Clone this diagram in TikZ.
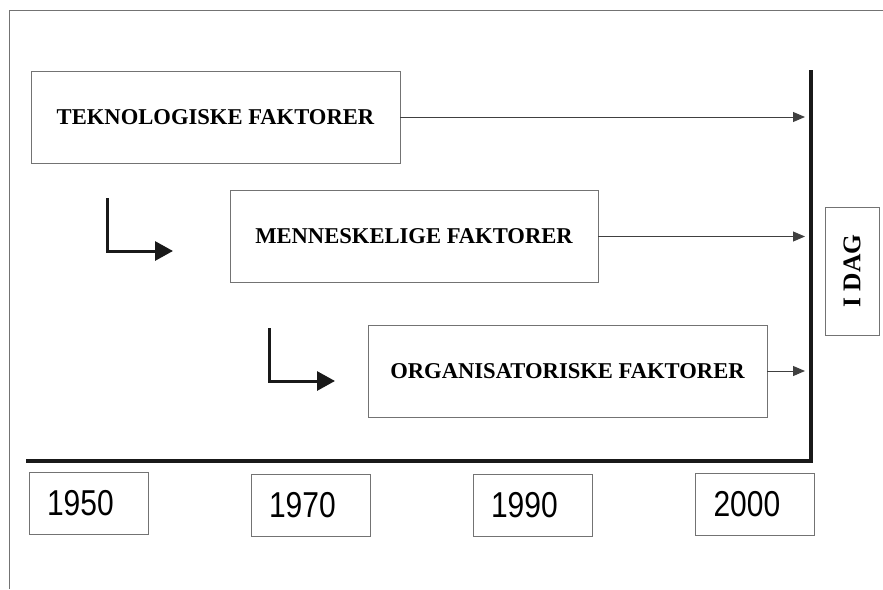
\documentclass[tikz,border=0pt]{standalone}
\usepackage{fontspec}
\setmainfont{Liberation Serif}
\newfontfamily\aarfont{Liberation Sans}
\usepackage{graphicx}
\usetikzlibrary{arrows.meta}

\newcommand{\aar}[1]{\scalebox{1}[1.2]{#1}}

\begin{document}
\begin{tikzpicture}[x=1, y=-1,
    faktor/.style={draw=black!55, line width=0.9, inner sep=0, minimum height=92,
      font=\fontsize{22.6}{25}\selectfont\bfseries},
    aarboks/.style={draw=black!55, line width=0.9, inner ysep=0, inner xsep=18,
      text width=83, align=left, minimum height=62, font=\aarfont\fontsize{30}{32}\selectfont},
    pil/.style={-{Triangle[length=12, width=10]}, line width=1, black!75},
    knekkpil/.style={-{Triangle[length=18, width=19]}, line width=3, black!90},
    tidslinje/.style={line width=3.5, black!90}]
            \useasboundingbox (0,0) rectangle (883,589);
            % Ramme
            \draw[black!55, line width=0.9] (9,589) -- (9,10) -- (883,10);
            % Tidslinje
            \coordinate (start) at (26,461);
            \coordinate (hjorne) at (811,461);
            \coordinate (topp) at (811,70);
            \coordinate (slutt) at (805,0);
            \draw[tidslinje] (start) -- (hjorne) -- (topp);
            % Faktorer
            \node[faktor, minimum width=369] (tek) at (215.5,117) {TEKNOLOGISKE FAKTORER};
            \node[faktor, minimum width=368] (men) at (414,236.5) {MENNESKELIGE FAKTORER};
            \node[faktor, minimum width=399] (org) at (567.5,371) {ORGANISATORISKE FAKTORER};
            \draw[pil] (tek.east) -- (tek.east -| slutt);
            \draw[pil] (men.east) -- (men.east -| slutt);
            \draw[pil] (org.east) -- (org.east -| slutt);
            % Knekkpiler
            \draw[knekkpil] (107,198) |- (173,251);
            \draw[knekkpil] (269,328) |- (335,381);
            % I dag
            \node[draw=black!55, line width=0.9, rotate=90, minimum width=128, minimum height=54,
              inner sep=0, font=\fontsize{25.5}{27}\selectfont\bfseries] (idag) at (852,271) {I DAG};
            % Aar
            \node[aarboks] (a1950) at (88.5,503.5) {\aar{1950}};
            \node[aarboks] (a1970) at (310.5,505) {\aar{1970}};
            \node[aarboks] (a1990) at (532.5,505) {\aar{1990}};
            \node[aarboks] (a2000) at (755,504) {\aar{2000}};
        \end{tikzpicture}
\end{document}
